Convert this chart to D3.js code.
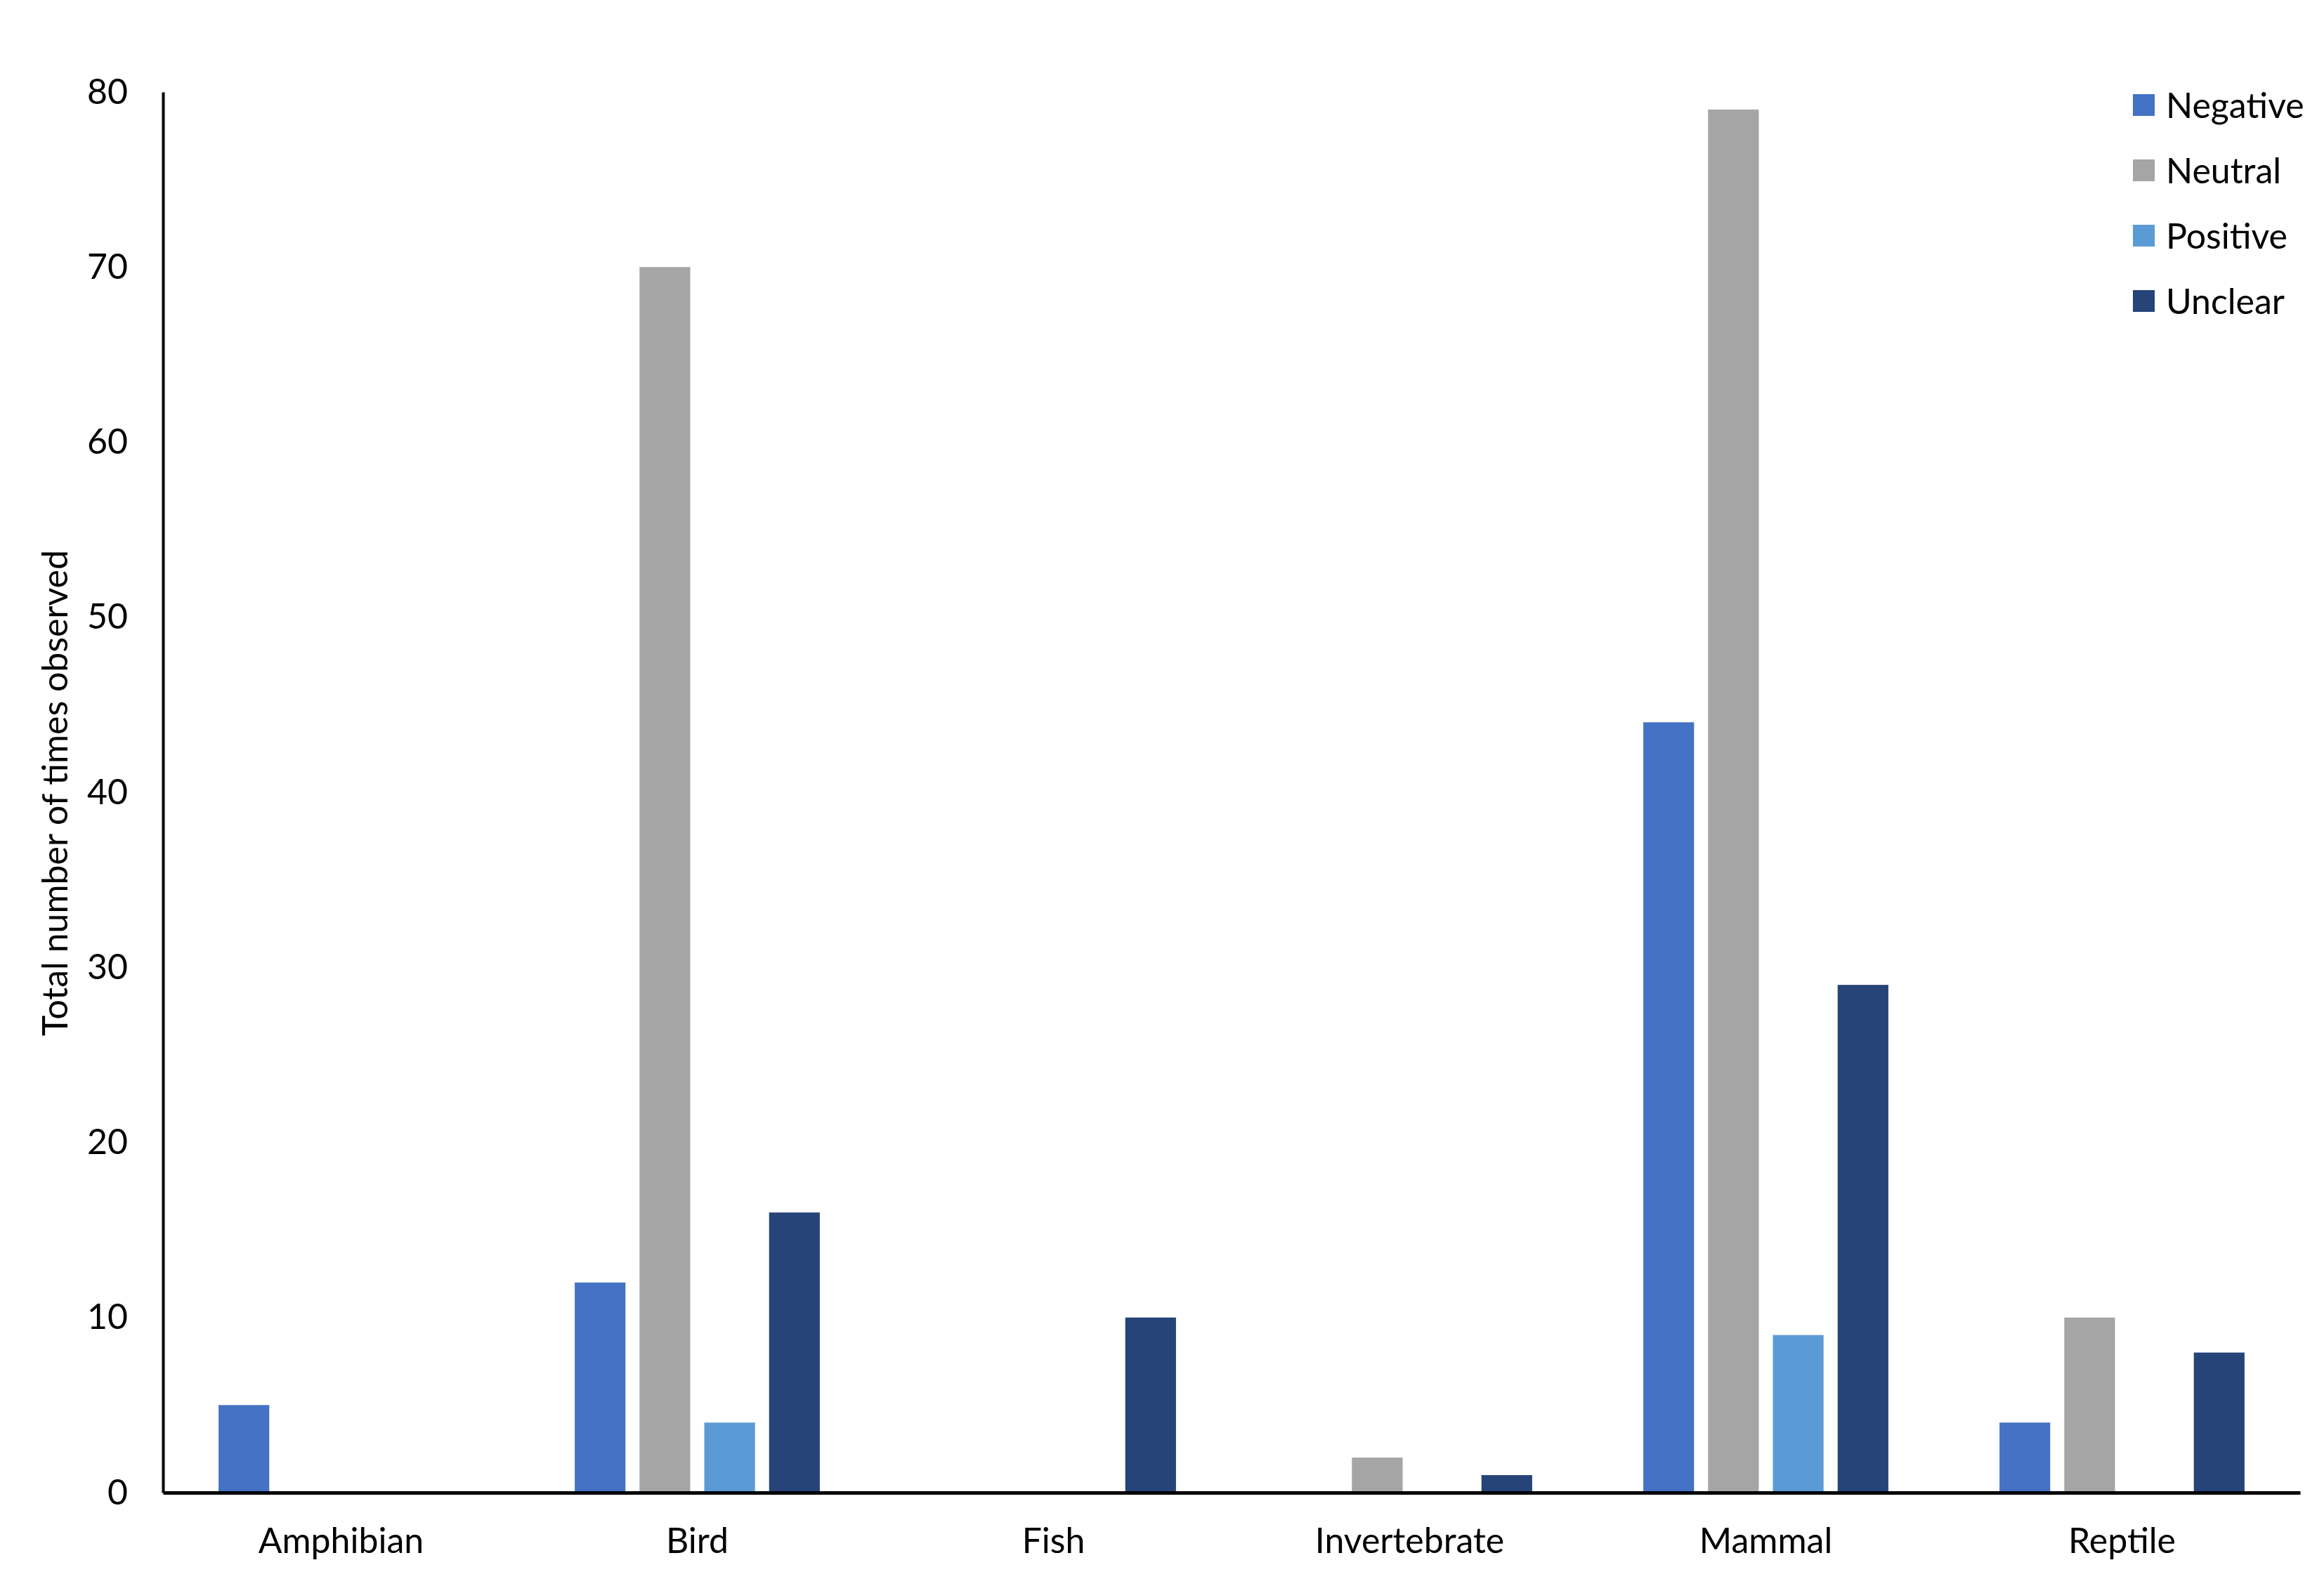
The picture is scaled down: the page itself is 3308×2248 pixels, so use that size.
<!DOCTYPE html>
<html>
<head>
<meta charset="utf-8">
<script src="https://cdn.jsdelivr.net/npm/d3@7"></script>
<style>
  body { margin: 0; background: #fff; }
  text { font-family: Lato, "Open Sans", sans-serif; fill: #000; }
</style>
</head>
<body>
<div id="chart"></div>
<script>
var svgWidth = 3308;
var svgHeight = 2248;

var margin = { top: 131, right: 34, bottom: 123, left: 232 };
var width = svgWidth - margin.left - margin.right;
var height = svgHeight - margin.top - margin.bottom;

// data
var categories = ["Amphibian", "Bird", "Fish", "Invertebrate", "Mammal", "Reptile"];
var seriesNames = ["Negative", "Neutral", "Positive", "Unclear"];
var negative = [5, 12, 0, 0, 44, 4];
var neutral = [0, 70, 0, 2, 79, 10];
var positive = [0, 4, 0, 0, 9, 0];
var unclear = [0, 16, 10, 1, 29, 8];
var yTicks = [0, 10, 20, 30, 40, 50, 60, 70, 80];
var colors = ["#4472C4", "#A5A5A5", "#5B9BD5", "#264478"];

var seriesValues = [negative, neutral, positive, unclear];
var rows = categories.map(function (c, i) {
  return {
    category: c,
    values: seriesNames.map(function (s, j) { return { key: s, value: seriesValues[j][i] }; })
  };
});

var svg = d3.select("#chart")
  .append("svg")
  .attr("width", svgWidth)
  .attr("height", svgHeight);

var chartGroup = svg.append("g")
  .attr("transform", `translate(${margin.left}, ${margin.top})`);

var x0 = d3.scaleBand()
  .domain(categories)
  .range([0, width])
  .padding(0);

// bars take roughly 69% of each category slot
var groupW = x0.bandwidth() * 0.688;
var groupOff = (x0.bandwidth() - groupW) / 2;
var x1 = d3.scaleBand()
  .domain(seriesNames)
  .range([groupOff, groupOff + groupW])
  .paddingInner(0.217)
  .paddingOuter(0);

var y = d3.scaleLinear()
  .domain([0, 80])
  .range([height, 0]);

var color = d3.scaleOrdinal().domain(seriesNames).range(colors);

// bars
var groups = chartGroup.selectAll(".cat")
  .data(rows)
  .enter()
  .append("g")
  .attr("class", "cat")
  .attr("transform", d => `translate(${x0(d.category)}, 0)`);

groups.selectAll("rect")
  .data(d => d.values.filter(v => v.value > 0))
  .enter()
  .append("rect")
  .attr("x", d => x1(d.key))
  .attr("y", d => y(d.value))
  .attr("width", x1.bandwidth())
  .attr("height", d => height - y(d.value))
  .attr("fill", d => color(d.key));

// y axis
var leftAxis = d3.axisLeft(y).tickValues(yTicks).tickSize(0).tickPadding(50).tickSizeOuter(0);
var yAxis = chartGroup.append("g").call(leftAxis);
yAxis.select(".domain").attr("stroke", "#000").attr("stroke-width", 4);
yAxis.selectAll("text").attr("font-size", 50).style("font-family", "Lato, sans-serif");

// x axis
var bottomAxis = d3.axisBottom(x0).tickSize(0).tickPadding(50).tickSizeOuter(0);
var xAxis = chartGroup.append("g")
  .attr("transform", `translate(0, ${height})`)
  .call(bottomAxis);
xAxis.select(".domain").attr("stroke", "#000").attr("stroke-width", 5);
xAxis.selectAll("text").attr("font-size", 50).style("font-family", "Lato, sans-serif");

// y axis title
svg.append("text")
  .attr("transform", `translate(96, 1129) rotate(-90)`)
  .attr("text-anchor", "middle")
  .attr("font-size", 50)
  .text("Total number of times observed");

// legend
var legend = svg.append("g")
  .attr("transform", "translate(3036, 134)");

var legendItems = legend.selectAll(".leg")
  .data(seriesNames)
  .enter()
  .append("g")
  .attr("class", "leg")
  .attr("transform", (d, i) => `translate(0, ${i * 93})`);

legendItems.append("rect")
  .attr("width", 31)
  .attr("height", 31)
  .attr("fill", d => color(d));

legendItems.append("text")
  .attr("x", 47)
  .attr("y", 16)
  .attr("dy", "0.35em")
  .attr("font-size", 50)
  .text(d => d);
</script>
</body>
</html>
